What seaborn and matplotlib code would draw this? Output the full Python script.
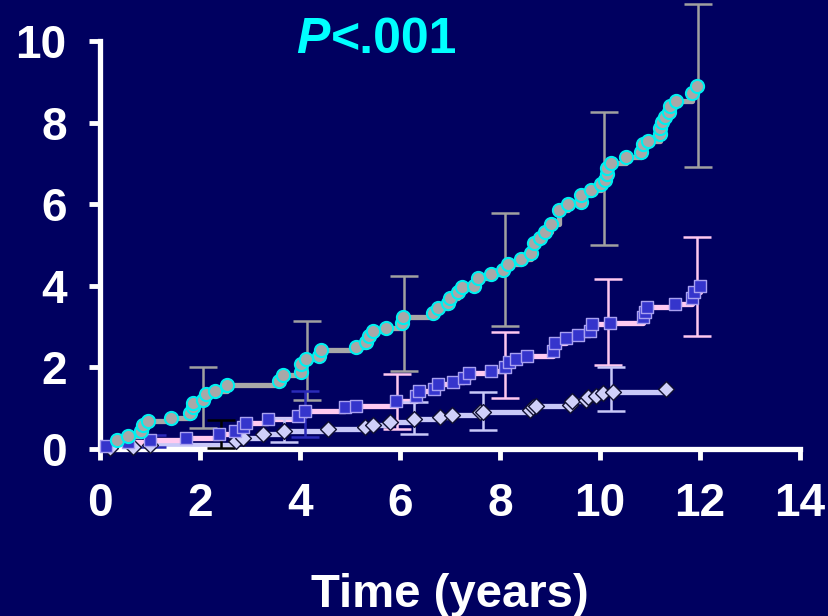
import matplotlib
matplotlib.use("Agg")
import matplotlib.pyplot as plt
import numpy as np
import pandas as pd
import seaborn as sns

# cumulative incidence curves (years, %)
circ_x = [0.0, 0.34, 0.57, 0.82, 0.87, 0.96, 1.42, 1.80, 1.86, 1.87, 2.06, 2.12, 2.30, 2.55, 3.58, 3.66,
          4.02, 4.02, 4.13, 4.38, 4.42, 5.13, 5.33, 5.38, 5.46, 5.73, 6.04, 6.07, 6.67, 6.77, 6.97, 7.00,
          7.17, 7.24, 7.48, 7.57, 7.83, 8.07, 8.17, 8.43, 8.63, 8.69, 8.80, 8.90, 9.03, 9.19, 9.37, 9.62,
          9.63, 9.83, 10.03, 10.10, 10.15, 10.15, 10.23, 10.52, 10.82, 10.87, 10.97, 11.20, 11.20, 11.24,
          11.30, 11.38, 11.41, 11.53, 11.85, 11.94]
circ_y = [0.0, 0.22, 0.32, 0.44, 0.59, 0.69, 0.76, 0.88, 1.03, 1.13, 1.20, 1.35, 1.42, 1.57, 1.67, 1.81,
          1.89, 2.08, 2.20, 2.28, 2.43, 2.50, 2.62, 2.77, 2.89, 2.97, 3.09, 3.24, 3.33, 3.46, 3.58, 3.70,
          3.85, 3.97, 4.00, 4.19, 4.29, 4.39, 4.53, 4.66, 4.80, 5.05, 5.17, 5.32, 5.51, 5.86, 6.00, 6.05,
          6.23, 6.35, 6.50, 6.60, 6.74, 6.89, 7.00, 7.16, 7.28, 7.47, 7.55, 7.72, 7.87, 8.01,
          8.14, 8.26, 8.41, 8.53, 8.73, 8.90]

sq_x = [0.0, 0.13, 0.57, 1.00, 1.72, 2.39, 2.70, 2.87, 2.92, 3.37, 3.97, 4.10, 4.90, 5.12, 5.92, 6.33,
        6.39, 6.68, 6.77, 7.07, 7.29, 7.39, 7.82, 8.10, 8.19, 8.33, 8.55, 9.07, 9.11, 9.33, 9.56, 9.81,
        9.85, 10.20, 10.87, 10.91, 10.95, 11.51, 11.84, 11.89, 12.01]
sq_y = [0.0, 0.07, 0.17, 0.22, 0.27, 0.37, 0.44, 0.54, 0.64, 0.73, 0.81, 0.93, 1.03, 1.05, 1.18, 1.30,
        1.42, 1.47, 1.59, 1.64, 1.74, 1.86, 1.91, 2.01, 2.13, 2.20, 2.28, 2.40, 2.60, 2.72, 2.80, 2.89,
        3.06, 3.09, 3.24, 3.36, 3.48, 3.55, 3.70, 3.85, 4.00]

dia_x = [0.0, 0.21, 0.67, 1.00, 2.72, 2.87, 3.27, 3.69, 4.57, 5.30, 5.47, 5.80, 6.29, 6.80, 7.05, 7.60,
         7.66, 8.60, 8.67, 8.72, 9.40, 9.45, 9.72, 9.77, 9.92, 10.07, 10.26, 11.32]
dia_y = [0.0, 0.03, 0.06, 0.10, 0.20, 0.27, 0.36, 0.45, 0.48, 0.55, 0.58, 0.66, 0.73, 0.78, 0.83, 0.90,
         0.90, 0.95, 1.03, 1.06, 1.07, 1.18, 1.20, 1.28, 1.30, 1.37, 1.40, 1.47]

# confidence intervals (x, lower, upper)
circ_err_x = [2.06, 4.14, 6.08, 8.10, 10.08, 11.96]
circ_err_lo = [0.52, 1.20, 1.91, 3.01, 5.00, 6.91]
circ_err_hi = [2.00, 3.14, 4.24, 5.78, 8.26, 10.90]

sq_err_x = [5.94, 8.10, 10.16, 11.94]
sq_err_lo = [0.49, 1.25, 2.06, 2.77]
sq_err_hi = [1.84, 2.87, 4.17, 5.20]

dia_err_x = [3.69, 6.28, 7.66, 10.22]
dia_err_lo = [0.16, 0.37, 0.47, 0.93]
dia_err_hi = [0.77, 1.15, 1.40, 2.00]

blue_err_x = [1.04, 4.10]
blue_err_lo = [0.04, 0.30]
blue_err_hi = [0.34, 1.42]

black_err_x = [2.42]
black_err_lo = [0.02]
black_err_hi = [0.70]

x_ticks = [0, 2, 4, 6, 8, 10, 12, 14]
y_ticks = [0, 2, 4, 6, 8, 10]

BG = "#000060"

sns.set_theme(style="white", rc={"figure.facecolor": BG, "axes.facecolor": BG})
plt.rcParams["font.family"] = ["Liberation Sans", "DejaVu Sans"]
plt.rcParams["font.weight"] = "bold"

fig = plt.figure(figsize=(8.29, 6.16), dpi=100)
ax = fig.add_axes([100 / 829, 1 - 449 / 616, 700 / 829, 408 / 616])


def draw_errors(xs, lo, hi, color):
    lo = np.array(lo)
    hi = np.array(hi)
    mid = (lo + hi) / 2
    ax.errorbar(xs, mid, yerr=[mid - lo, hi - mid], fmt="none", ecolor=color,
                elinewidth=1.8, capsize=10, capthick=1.8, zorder=3, clip_on=False)


def draw_curve(xs, ys, line_color, marker, face, edge, size, ew):
    df = pd.DataFrame({"x": xs, "y": ys})
    sns.lineplot(data=df, x="x", y="y", estimator=None, sort=False, ax=ax,
                 color=line_color, linewidth=3.8, drawstyle="steps-post", zorder=2)
    sns.scatterplot(data=df.iloc[1:], x="x", y="y", ax=ax, marker=marker, s=size,
                    color=face, edgecolor=edge, linewidth=ew, zorder=4, clip_on=False)


draw_curve(dia_x, dia_y, "#c8c8f8", "D", "#d0d0fa", "#101030", 65, 1.0)
draw_curve(sq_x, sq_y, "#ffcaf0", "s", "#3535cc", "#a8a0f0", 65, 1.0)
draw_curve(circ_x, circ_y, "#a8a8a8", "o", "#a8a8a8", "#00f0f0", 90, 1.5)

draw_errors(circ_err_x, circ_err_lo, circ_err_hi, "#a0a0a0")
draw_errors(sq_err_x, sq_err_lo, sq_err_hi, "#ffc8f0")
draw_errors(dia_err_x, dia_err_lo, dia_err_hi, "#c8c8f8")
draw_errors(blue_err_x, blue_err_lo, blue_err_hi, "#2a2ab8")
draw_errors(black_err_x, black_err_lo, black_err_hi, "#000000")

ax.set_xlim(0, 14)
ax.set_ylim(0, 10)
ax.set_xticks(x_ticks)
ax.set_yticks(y_ticks)
ax.tick_params(axis="both", colors="white", labelcolor="white", labelsize=33,
               length=8, width=3.5, direction="out", pad=16, bottom=True, left=True)
for lab in ax.get_xticklabels() + ax.get_yticklabels():
    lab.set_fontweight("bold")

sns.despine(ax=ax)
for side in ("left", "bottom"):
    ax.spines[side].set_color("white")
    ax.spines[side].set_linewidth(3.8)

ax.set_ylabel("")
ax.set_xlabel("Time (years)", color="white", fontsize=34, fontweight="bold")
ax.xaxis.set_label_coords(0.5, -0.305)
ax.xaxis.label.set_va("top")

fig.text(330 / 829, 1 - 53 / 616, "P", color="#00ffff", fontsize=36, fontweight="bold",
         fontstyle="italic", ha="right", va="baseline")
fig.text(331 / 829, 1 - 53 / 616, "<.001", color="#00ffff", fontsize=36, fontweight="bold",
         ha="left", va="baseline")

fig.savefig("out.png", dpi=100, facecolor=BG)
